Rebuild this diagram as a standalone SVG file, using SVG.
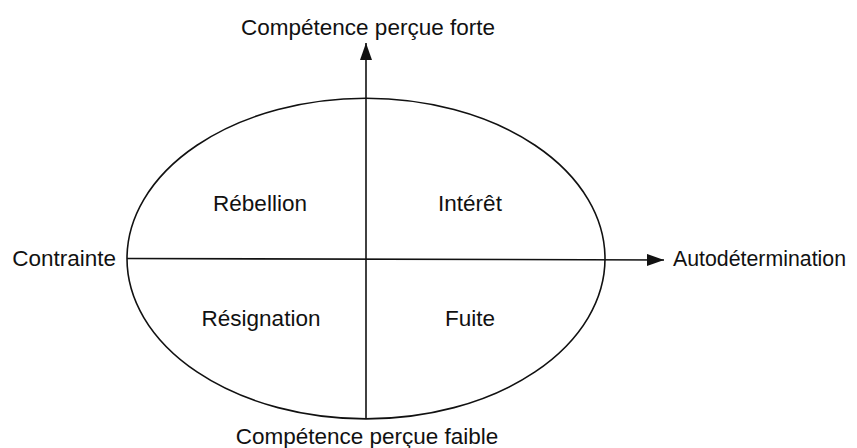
<svg xmlns="http://www.w3.org/2000/svg" width="857" height="448" viewBox="0 0 857 448">
<style>
text{font-family:"Liberation Sans",Arial,sans-serif;font-size:22.5px;fill:#111}
.ax{stroke:#111;stroke-width:1.6;fill:none}
</style>
<defs>
<marker id="ah" markerWidth="17" markerHeight="12" refX="17" refY="6" orient="auto" markerUnits="userSpaceOnUse">
<path d="M0,0 L17,6 L0,12 Z" fill="#111"/>
</marker>
</defs>
<rect width="857" height="448" fill="#fff"/>
<g id="ellipse">
<ellipse cx="366" cy="258.6" rx="239" ry="160.3" class="ax"/>
</g>
<g id="connectors">
<line x1="366" y1="419" x2="366" y2="43" class="ax" marker-end="url(#ah)"/>
<line x1="127" y1="258.5" x2="664" y2="260" class="ax" marker-end="url(#ah)"/>
</g>
<g id="top-label"><text x="368" y="35" text-anchor="middle">Compétence perçue forte</text></g>
<g id="bottom-label"><text x="367" y="444" text-anchor="middle">Compétence perçue faible</text></g>
<g id="left-label"><text x="116" y="266" text-anchor="end">Contrainte</text></g>
<g id="right-label"><text x="673" y="266" textLength="173" lengthAdjust="spacingAndGlyphs">Autodétermination</text></g>
<g id="rebellion"><text x="260" y="211" text-anchor="middle">Rébellion</text></g>
<g id="interet"><text x="470" y="211" text-anchor="middle">Intérêt</text></g>
<g id="resignation"><text x="261" y="326" text-anchor="middle">Résignation</text></g>
<g id="fuite"><text x="470" y="326" text-anchor="middle">Fuite</text></g>
</svg>
